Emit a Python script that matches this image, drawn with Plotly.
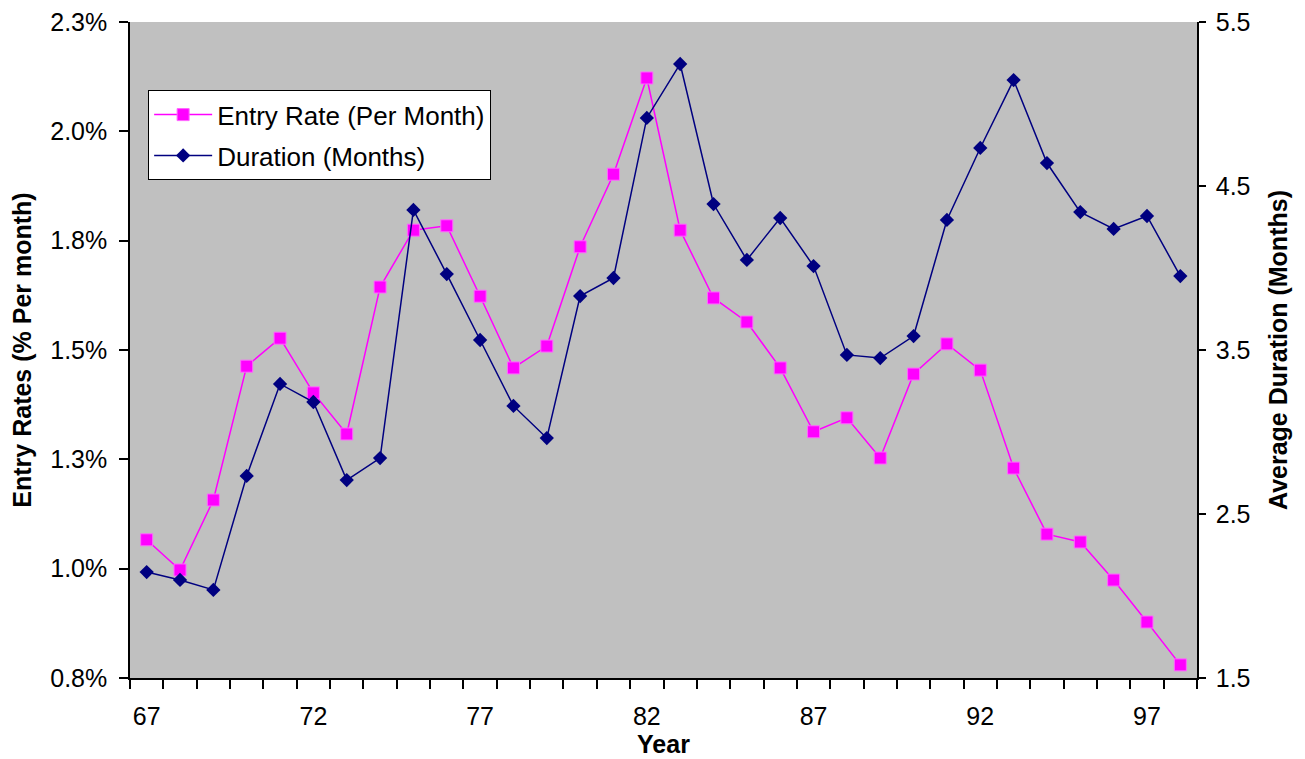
import plotly.graph_objects as go

years = [str(y) for y in range(67, 99)]
entry_rate = [1.066, 0.997, 1.157, 1.463, 1.527, 1.402, 1.308, 1.644, 1.774, 1.784,
              1.623, 1.459, 1.509, 1.736, 1.902, 2.122, 1.774, 1.619, 1.564, 1.459,
              1.313, 1.345, 1.253, 1.445, 1.514, 1.454, 1.230, 1.079, 1.061, 0.974,
              0.878, 0.780]
duration = [2.146, 2.098, 2.037, 2.732, 3.293, 3.183, 2.707, 2.841, 4.354, 3.963,
            3.561, 3.159, 2.963, 3.829, 3.939, 4.915, 5.244, 4.390, 4.049, 4.305,
            4.012, 3.470, 3.451, 3.585, 4.293, 4.732, 5.146, 4.640, 4.341, 4.238,
            4.317, 3.951]
left_tickvals = [0.75, 1.0, 1.25, 1.5, 1.75, 2.0, 2.25]
left_ticktext = ["0.8%", "1.0%", "1.3%", "1.5%", "1.8%", "2.0%", "2.3%"]
right_tickvals = [1.5, 2.5, 3.5, 4.5, 5.5]
right_ticktext = ["1.5", "2.5", "3.5", "4.5", "5.5"]
x_ticktext = [y if (int(y) - 67) % 5 == 0 else "" for y in years]

FONT = "Liberation Sans, Arial, sans-serif"
FS = 25

fig = go.Figure()
fig.add_trace(go.Scatter(
    x=years, y=entry_rate, name="Entry Rate (Per Month)", mode="lines+markers",
    legendgroup="a",
    line=dict(color="#FF00FF", width=1.5),
    marker=dict(symbol="square", size=12, color="#FF00FF",
                line=dict(color="#FF66FF", width=1)),
    yaxis="y", xaxis="x"))
fig.add_trace(go.Scatter(
    x=years, y=duration, name="Duration (Months)", mode="lines+markers",
    legendgroup="b",
    line=dict(color="#000080", width=1.5),
    marker=dict(symbol="diamond", size=11, color="#000080"),
    yaxis="y2", xaxis="x"))

fig.update_layout(
    width=1305, height=759,
    margin=dict(l=130, r=108, t=22, b=81),
    paper_bgcolor="white", plot_bgcolor="#C0C0C0",
    font=dict(family=FONT, size=FS, color="black"),
    showlegend=True,
    legend=dict(x=0.017, y=0.896, xanchor="left", yanchor="top",
                bgcolor="white", bordercolor="black", borderwidth=1,
                font=dict(family=FONT, size=26), tracegroupgap=4,
                itemwidth=58),
    xaxis=dict(type="category", range=[-0.5, 31.5], tickvals=years,
               ticktext=x_ticktext, tickson="boundaries", ticks="outside",
               ticklen=9, tickcolor="black", tickwidth=1.5, tickangle=0,
               showline=True, linecolor="black", linewidth=1.5,
               showgrid=False, zeroline=False, ticklabelstandoff=15,
               automargin=False,
               title=dict(text="<b>Year</b>", standoff=0,
                          font=dict(family=FONT, size=FS)),
               tickfont=dict(family=FONT, size=FS)),
    xaxis3=dict(overlaying="x", anchor="y", range=[-0.5, 31.5], tick0=-0.5,
                dtick=1, ticks="inside", ticklen=9, tickcolor="black",
                tickwidth=1.5, showticklabels=False, showgrid=False,
                zeroline=False, showline=False, automargin=False),
    yaxis=dict(range=[0.75, 2.25], tickvals=left_tickvals,
               ticktext=left_ticktext, ticks="outside", ticklen=9,
               tickcolor="black", tickwidth=1.5, showline=True,
               linecolor="black", linewidth=1.5, showgrid=False,
               zeroline=False, tickfont=dict(family=FONT, size=FS),
               ticklabelstandoff=7, automargin=False,
               title=dict(text="<b>Entry Rates (% Per month)</b>", standoff=12,
                          font=dict(family=FONT, size=FS))),
    yaxis2=dict(range=[1.5, 5.5], tickvals=right_tickvals,
                ticktext=right_ticktext, overlaying="y", side="right",
                anchor="x", ticks="outside", ticklen=7, tickcolor="black",
                tickwidth=1.5, showline=True, linecolor="black", linewidth=1.5,
                showgrid=False, zeroline=False, ticklabelstandoff=5,
                automargin=False,
                tickfont=dict(family=FONT, size=FS),
                title=dict(text="<b>Average Duration (Months)</b>", standoff=20,
                           font=dict(family=FONT, size=FS))),
    yaxis3=dict(range=[1.5, 5.5], tickvals=right_tickvals, overlaying="y",
                side="right", anchor="x", ticks="inside", ticklen=7,
                tickcolor="black", tickwidth=1.5, showticklabels=False,
                showline=False, showgrid=False, zeroline=False,
                automargin=False),
)

fig.write_html("out.html")
